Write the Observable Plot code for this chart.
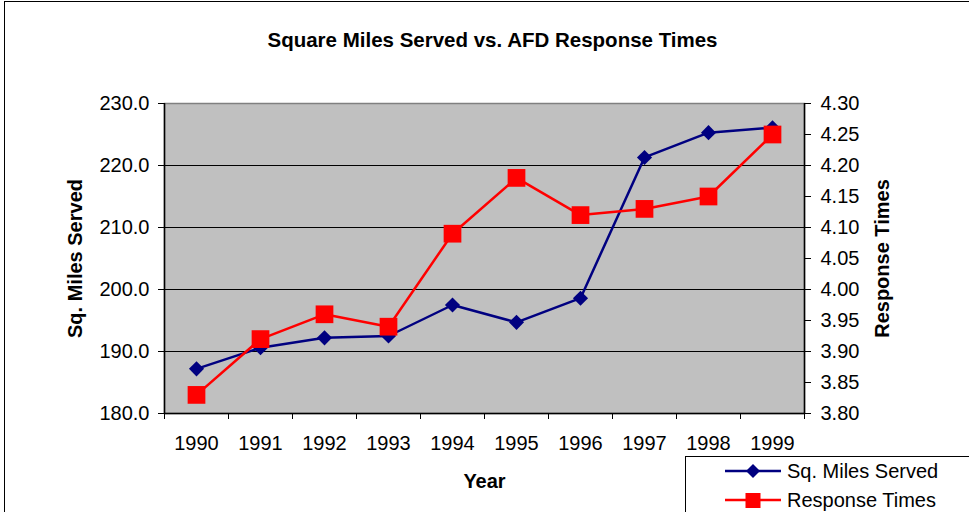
<!DOCTYPE html>
<html>
<head>
<meta charset="utf-8">
<script src="https://cdn.jsdelivr.net/npm/d3@7"></script>
<script src="https://cdn.jsdelivr.net/npm/@observablehq/plot@0.6"></script>
<style>
  html, body { margin: 0; padding: 0; background: #fff; overflow: hidden; }
  #wrap { position: relative; width: 969px; height: 512px; font-family: "Liberation Sans", Arial, sans-serif; }
  #outer { position: absolute; left: 4px; top: 1px; width: 2000px; height: 2000px; border: 1px solid #000; pointer-events: none; }
  #legend { position: absolute; left: 685px; top: 456px; width: 400px; height: 200px; border: 1px solid #000; background: #fff; }
  .row { position: absolute; left: 0; height: 28px; display: flex; align-items: center; font-size: 20px; color: #000; white-space: nowrap; }
  .row svg { display: block; margin-left: 39px; margin-right: 6px; }
</style>
</head>
<body>
<div id="wrap">
  <div id="chart"></div>
  <div id="legend"></div>
  <div id="outer"></div>
</div>
<script>
// ---- data ----
const years = [1990, 1991, 1992, 1993, 1994, 1995, 1996, 1997, 1998, 1999];
const sqMilesServed = [187.2, 190.6, 192.2, 192.5, 197.5, 194.7, 198.6, 221.3, 225.3, 226.1];
const responseTimes = [3.83, 3.92, 3.96, 3.94, 4.09, 4.18, 4.12, 4.13, 4.15, 4.25];
const leftTicks = [180, 190, 200, 210, 220, 230];
const rightTicks = [3.80, 3.85, 3.90, 3.95, 4.00, 4.05, 4.10, 4.15, 4.20, 4.25, 4.30];
const titleText = "Square Miles Served vs. AFD Response Times";
const leftLabel = "Sq. Miles Served";
const rightLabel = "Response Times";
const xLabel = "Year";
const seriesNames = ["Sq. Miles Served", "Response Times"];

// map right axis (response times) onto left scale
const rMin = 3.80, rMax = 4.30, lMin = 180, lMax = 230;
const toLeft = v => lMin + (v - rMin) * (lMax - lMin) / (rMax - rMin);
const toRight = v => rMin + (v - lMin) * (rMax - rMin) / (lMax - lMin);

const blue = years.map((y, i) => ({year: y, v: sqMilesServed[i]}));
const red = years.map((y, i) => ({year: y, v: toLeft(responseTimes[i])}));
const boundaries = years.map(y => y - 0.5).concat([years[years.length - 1] + 0.5]);
const grid = leftTicks.slice(1, -1);

const navy = "#000080", redC = "#FF0000";

const chart = Plot.plot({
  width: 969,
  height: 512,
  marginLeft: 164,
  marginRight: 165,
  marginTop: 103,
  marginBottom: 99,
  style: {fontFamily: '"Liberation Sans", Arial, sans-serif', fontSize: "20px", background: "transparent", color: "#000"},
  x: {domain: [boundaries[0], boundaries[boundaries.length - 1]]},
  y: {domain: [lMin, lMax]},
  marks: [
    Plot.frame({fill: "#C0C0C0", stroke: "#808080", strokeWidth: 1.5}),
    Plot.ruleY(grid, {stroke: "#000", strokeWidth: 1}),
    Plot.ruleY([lMin], {stroke: "#000", strokeWidth: 1.5}),
    Plot.ruleX([boundaries[0], boundaries[boundaries.length - 1]], {stroke: "#000", strokeWidth: 1.5}),
    Plot.axisY({anchor: "left", ticks: leftTicks, tickSize: 6, tickPadding: 9, tickFormat: d => d.toFixed(1), label: null, fontSize: 20, stroke: "#000"}),
    Plot.axisY({anchor: "right", ticks: rightTicks.map(toLeft), tickSize: 6, tickPadding: 10, tickFormat: d => toRight(d).toFixed(2), label: null, fontSize: 20, stroke: "#000"}),
    Plot.axisX({ticks: boundaries, tickSize: 6, tickFormat: () => "", label: null, stroke: "#000"}),
    Plot.axisX({ticks: years, tickSize: 0, tickPadding: 22, tickFormat: d => String(d), label: null, fontSize: 20}),
    Plot.line(blue, {x: "year", y: "v", stroke: navy, strokeWidth: 2.5}),
    Plot.dot(blue, {x: "year", y: "v", symbol: "diamond2", r: 6.8, fill: navy, stroke: "none"}),
    Plot.line(red, {x: "year", y: "v", stroke: redC, strokeWidth: 2.5}),
    Plot.dot(red, {x: "year", y: "v", symbol: "square", r: 10, fill: redC, stroke: "none"}),
    Plot.text([titleText], {text: d => d, frameAnchor: "top", lineAnchor: "middle", textAnchor: "middle", dx: 8, dy: -63, fontWeight: "bold", fontSize: 20.5}),
    Plot.text([leftLabel], {text: d => d, frameAnchor: "left", textAnchor: "middle", lineAnchor: "middle", dx: -89, rotate: -90, fontWeight: "bold", fontSize: 20}),
    Plot.text([rightLabel], {text: d => d, frameAnchor: "right", textAnchor: "middle", lineAnchor: "middle", dx: 78, rotate: -90, fontWeight: "bold", fontSize: 20}),
    Plot.text([xLabel], {text: d => d, frameAnchor: "bottom", textAnchor: "middle", lineAnchor: "middle", dy: 68, fontWeight: "bold", fontSize: 20})
  ]
});
document.getElementById("chart").appendChild(chart);

// legend
const legend = document.getElementById("legend");
const sw = [
  `<svg width="56" height="20"><line x1="0" y1="10" x2="56" y2="10" stroke="${navy}" stroke-width="2.5"/><path d="M28,3 L35,10 L28,17 L21,10 Z" fill="${navy}"/></svg>`,
  `<svg width="56" height="20"><line x1="0" y1="10" x2="56" y2="10" stroke="${redC}" stroke-width="2.5"/><rect x="20.5" y="3" width="15" height="15" fill="${redC}"/></svg>`
];
seriesNames.forEach((name, i) => {
  const row = document.createElement("div");
  row.className = "row";
  row.style.top = (i === 0 ? 0 : 29) + "px";
  row.innerHTML = sw[i] + `<span>${name}</span>`;
  legend.appendChild(row);
});
</script>
</body>
</html>
